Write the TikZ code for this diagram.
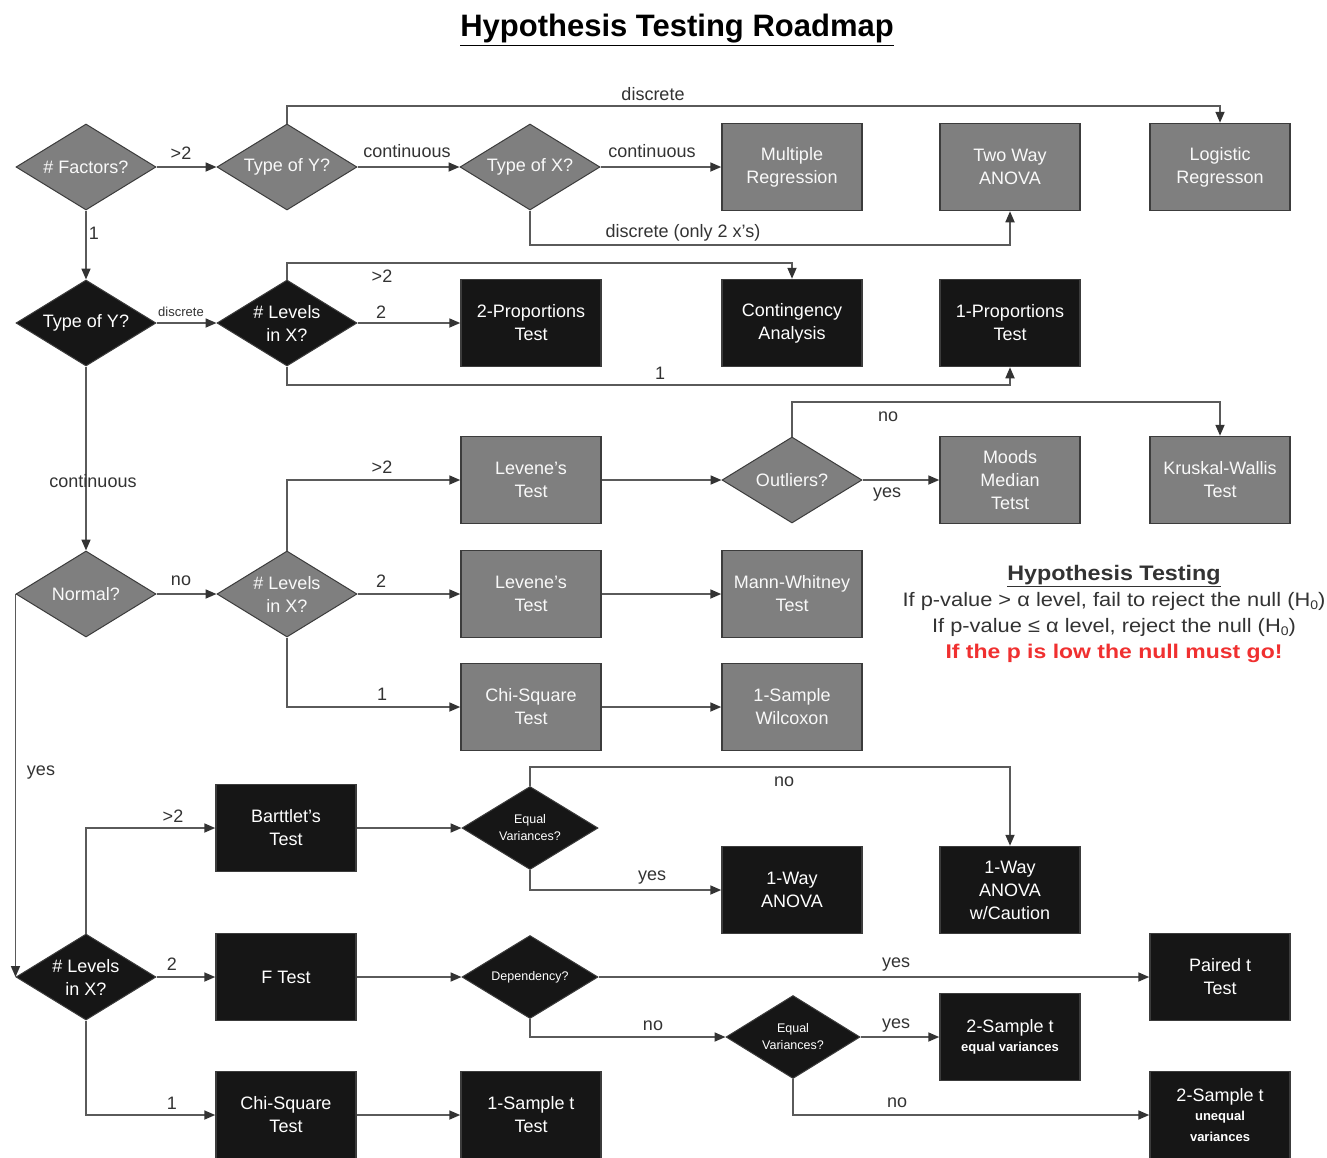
\documentclass[tikz,border=0pt]{standalone}
\usepackage{fontspec}
\usepackage{graphicx}
\setmainfont{Liberation Sans}
\usetikzlibrary{shapes.geometric,arrows.meta}
\definecolor{gfill}{HTML}{7F7F7F}
\definecolor{bfill}{HTML}{161616}
\definecolor{edgec}{HTML}{3C3C3C}
\definecolor{linec}{HTML}{5A5A5A}
\definecolor{redt}{HTML}{F03030}
\newcommand{\subzero}{\raisebox{-2.5pt}{\fontsize{12.5}{13}\selectfont 0}}
\tikzset{
 every node/.style={font=\fontsize{18}{23}\selectfont},
 gbox/.style={draw=edgec, line width=1.5pt, fill=gfill, text=white!95!gray, minimum width=140pt, minimum height=87pt, align=center, inner sep=0pt},
 bbox/.style={gbox, fill=bfill, draw=edgec, text=white},
 gdia/.style={diamond, draw=edgec, line width=1pt, fill=gfill, text=white!95!gray, minimum width=140pt, minimum height=86pt, aspect=1.63, inner sep=0pt, align=center},
 bdia/.style={gdia, fill=bfill, text=white},
 conn/.style={draw=linec, line width=1.7pt, -{Triangle[length=11pt,width=9pt,color=black!80]}},
 lbl/.style={text=black!80, font=\fontsize{18}{20}\selectfont, inner sep=0pt},
}
\begin{document}
\begin{tikzpicture}[x=1pt,y=-1pt]
\useasboundingbox[fill=white] (0,0) rectangle (1327,1157);
% title
\node (title) at (677,30) {\fontsize{31}{34}\selectfont\bfseries\underline{Hypothesis Testing Roadmap}};

% row 1
\node[gdia] (fac) at (86,167) {\# Factors?};
\node[gdia] (tyg) at (287,167) {Type of Y?};
\node[gdia] (txg) at (530,167) {Type of X?};
\node[gbox] (mreg) at (792,167) {Multiple\\Regression};
\node[gbox] (twa) at (1010,167) {Two Way\\ANOVA};
\node[gbox] (logr) at (1220,167) {Logistic\\Regresson};

% row 2
\node[bdia] (tyb) at (86,323) {Type of Y?};
\node[bdia] (lvb) at (287,323) {\# Levels\\in X?};
\node[bbox] (p2) at (531,323) {2-Proportions\\Test};
\node[bbox] (cont) at (792,323) {Contingency\\Analysis};
\node[bbox] (p1) at (1010,323) {1-Proportions\\Test};

% non-normal block
\node[gdia] (norm) at (86,594) {Normal?};
\node[gdia] (lvg) at (287,594) {\# Levels\\in X?};
\node[gbox] (lev1) at (531,480) {Levene's\\Test};
\node[gdia] (outl) at (792,480) {Outliers?};
\node[gbox] (mood) at (1010,480) {Moods\\Median\\Tetst};
\node[gbox] (krus) at (1220,480) {Kruskal-Wallis\\Test};
\node[gbox] (lev2) at (531,594) {Levene's\\Test};
\node[gbox] (mann) at (792,594) {Mann-Whitney\\Test};
\node[gbox] (chig) at (531,707) {Chi-Square\\Test};
\node[gbox] (wilc) at (792,707) {1-Sample\\Wilcoxon};

% normal block
\node[bbox] (bart) at (286,828) {Barttlet's\\Test};
\node[bdia, minimum width=136pt, minimum height=83pt, font=\fontsize{12.5}{17}\selectfont] (eqv1) at (530,828) {Equal\\Variances?};
\node[bbox] (anova1) at (792,890) {1-Way\\ANOVA};
\node[bbox] (anovac) at (1010,890) {1-Way\\ANOVA\\w/Caution};
\node[bdia] (lvk) at (86,977) {\# Levels\\in X?};
\node[bbox] (ftest) at (286,977) {F Test};
\node[bdia, minimum width=136pt, minimum height=83pt, font=\fontsize{12.5}{15}\selectfont] (dep) at (530,977) {Dependency?};
\node[bbox] (paired) at (1220,977) {Paired t\\Test};
\node[bdia, minimum width=134pt, minimum height=83pt, font=\fontsize{12.5}{17}\selectfont] (eqv2) at (793,1037) {Equal\\Variances?};
\node[bbox] (s2eq) at (1010,1037) {2-Sample t\\[-4pt]\fontsize{13}{15}\selectfont\bfseries equal variances};
\node[bbox] (chib) at (286,1115) {Chi-Square\\Test};
\node[bbox] (s1t) at (531,1115) {1-Sample t\\Test};
\node[bbox] (s2un) at (1220,1115) {2-Sample t\\[-4pt]\fontsize{13}{17}\selectfont\bfseries unequal\\[-2pt]\fontsize{13}{17}\selectfont\bfseries variances};

% legend text
\node (legend) at (1114,614) [align=center, text=black!80, font=\fontsize{19.5}{26}\selectfont] {%
 \scalebox{1.11}[1]{\fontsize{21}{26}\selectfont\bfseries\underline{Hypothesis Testing}}\\
 \scalebox{1.12}[1]{If p-value > α level, fail to reject the null (H\subzero)}\\
 \scalebox{1.12}[1]{If p-value ≤ α level, reject the null (H\subzero)}\\
 \scalebox{1.16}[1]{\fontsize{19.8}{26}\selectfont\color{redt}\bfseries If the p is low the null must go!}};

% connectors
\draw[conn] (fac.east) -- (tyg.west);
\draw[conn] (fac.south) -- (tyb.north);
\draw[conn] (tyg.east) -- (txg.west);
\draw[conn] (tyg.north) -- (tyg.north |- 0,106) -| (logr.north);
\draw[conn] (txg.east) -- (mreg.west);
\draw[conn] (txg.south) -- (txg.south |- 0,245) -| (twa.south);
\draw[conn] (tyb.east) -- (lvb.west);
\draw[conn] (lvb.north) -- (lvb.north |- 0,263) -| (cont.north);
\draw[conn] (lvb.east) -- (p2.west);
\draw[conn] (lvb.south) -- (lvb.south |- 0,385) -| (p1.south);
\draw[conn] (tyb.south) -- (norm.north);
\draw[conn] (norm.east) -- (lvg.west);
\draw[conn] (norm.west) -- (lvk.west);
\draw[conn] (lvg.north) |- (lev1.west);
\draw[conn] (lvg.east) -- (lev2.west);
\draw[conn] (lvg.south) |- (chig.west);
\draw[conn] (lev1.east) -- (outl.west);
\draw[conn] (outl.east) -- (mood.west);
\draw[conn] (outl.north) -- (outl.north |- 0,402) -| (krus.north);
\draw[conn] (lev2.east) -- (mann.west);
\draw[conn] (chig.east) -- (wilc.west);
\draw[conn] (lvk.north) |- (bart.west);
\draw[conn] (lvk.east) -- (ftest.west);
\draw[conn] (lvk.south) |- (chib.west);
\draw[conn] (bart.east) -- (eqv1.west);
\draw[conn] (eqv1.north) -- (eqv1.north |- 0,767) -| (anovac.north);
\draw[conn] (eqv1.south) |- (anova1.west);
\draw[conn] (ftest.east) -- (dep.west);
\draw[conn] (dep.east) -- (paired.west);
\draw[conn] (dep.south) |- (eqv2.west);
\draw[conn] (eqv2.east) -- (s2eq.west);
\draw[conn] (eqv2.south) |- (s2un.west);
\draw[conn] (chib.east) -- (s1t.west);

% labels
\node[lbl] (l1) at (181,153) {>2};
\node[lbl] (l2) at (94,233) {1};
\node[lbl] (l3) at (407,151) {continuous};
\node[lbl] (l4) at (653,94) {discrete};
\node[lbl] (l5) at (652,151) {continuous};
\node[lbl] (l6) at (683,233) {discrete (only 2 x's)};
\node[lbl, font=\fontsize{13}{15}\selectfont] (l7) at (181,312) {discrete};
\node[lbl] (l8) at (382,276) {>2};
\node[lbl] (l9) at (381,312) {2};
\node[lbl] (l10) at (660,373) {1};
\node[lbl] (l11) at (93,481) {continuous};
\node[lbl] (l12) at (181,581) {no};
\node[lbl] (l13) at (41,773) {yes};
\node[lbl] (l14) at (382,467) {>2};
\node[lbl] (l15) at (381,581) {2};
\node[lbl] (l16) at (382,694) {1};
\node[lbl] (l17) at (888,417) {no};
\node[lbl] (l18) at (887,495) {yes};
\node[lbl] (l19) at (173,816) {>2};
\node[lbl] (l20) at (172,964) {2};
\node[lbl] (l21) at (172,1103) {1};
\node[lbl] (l22) at (784,782) {no};
\node[lbl] (l23) at (652,878) {yes};
\node[lbl] (l24) at (896,965) {yes};
\node[lbl] (l25) at (653,1026) {no};
\node[lbl] (l26) at (896,1026) {yes};
\node[lbl] (l27) at (897,1103) {no};
\end{tikzpicture}
\end{document}
